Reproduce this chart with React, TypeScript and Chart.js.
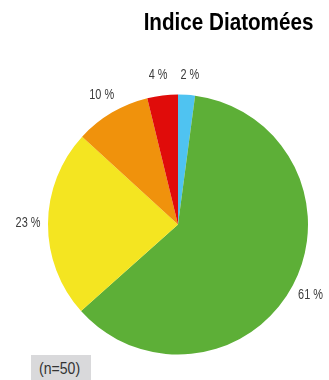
import React, { useEffect, useRef } from "react";
import { Chart, registerables } from "chart.js";

Chart.register(...registerables);

const categories = ["Bleu", "Vert", "Jaune", "Orange", "Rouge"];
const values = [2.1, 61.3, 23.4, 9.4, 3.8];
const valueLabels = ["2 %", "61 %", "23 %", "10 %", "4 %"];
const colors = ["#4fc3f1", "#5daf37", "#f4e521", "#f0920c", "#e00c0a"];

const FONT = '"Liberation Sans", Arial, sans-serif';
const LABEL_SCALE = 0.78;

const outsideLabels = {
  id: "outsideLabels",
  afterDatasetsDraw(chart: any) {
    const ctx = chart.ctx;
    const meta = chart.getDatasetMeta(0);
    ctx.save();
    ctx.font = `14px ${FONT}`;
    ctx.fillStyle = "#3c3c3c";
    ctx.textAlign = "center";
    ctx.textBaseline = "middle";
    const items: any[] = meta.data.map((arc: any, i: number) => {
      const p = arc.getProps(["x", "y", "startAngle", "endAngle", "outerRadius"], true);
      const mid = (p.startAngle + p.endAngle) / 2;
      const r = p.outerRadius + 20;
      const text = valueLabels[i];
      return {
        x: p.x + Math.cos(mid) * r,
        y: p.y + Math.sin(mid) * r,
        w: ctx.measureText(text).width * LABEL_SCALE,
        text,
      };
    });
    // simple collision spreading for labels on similar rows
    for (let k = 0; k < 5; k++) {
      for (let i = 0; i < items.length; i++) {
        for (let j = i + 1; j < items.length; j++) {
          const a = items[i];
          const b = items[j];
          if (Math.abs(a.y - b.y) < 14) {
            const need = (a.w + b.w) / 2 + 13;
            const d = Math.abs(a.x - b.x);
            if (d < need) {
              const push = (need - d) / 2;
              if (a.x >= b.x) {
                a.x += push;
                b.x -= push;
              } else {
                a.x -= push;
                b.x += push;
              }
            }
          }
        }
      }
    }
    items.forEach((it) => {
      ctx.save();
      ctx.translate(it.x, it.y);
      ctx.scale(LABEL_SCALE, 1);
      ctx.fillText(it.text, 0, 0);
      ctx.restore();
    });
    ctx.restore();
  },
};

export default function App() {
  const ref = useRef<HTMLCanvasElement | null>(null);
  useEffect(() => {
    if (!ref.current) return;
    const chart = new Chart(ref.current, {
      type: "pie",
      data: {
        labels: categories,
        datasets: [
          {
            data: values,
            backgroundColor: colors,
            borderWidth: 0,
          },
        ],
      },
      options: {
        animation: false,
        responsive: false,
        layout: { padding: { left: 48, right: 21, top: 94.5, bottom: 25.5 } },
        plugins: {
          legend: { display: false },
          tooltip: { enabled: false },
          title: { display: false },
        },
      },
      plugins: [outsideLabels],
    });
    return () => chart.destroy();
  }, []);

  return (
    <div
      style={{
        position: "fixed",
        left: 0,
        top: 0,
        width: 329,
        height: 380,
        background: "#ffffff",
        overflow: "hidden",
      }}
    >
      <canvas ref={ref} width={329} height={380} style={{ position: "absolute", left: 0, top: 0 }} />
      <div
        style={{
          position: "absolute",
          right: 16,
          top: 10,
          fontFamily: FONT,
          fontWeight: "bold",
          fontSize: 24,
          lineHeight: "24px",
          color: "#000",
          whiteSpace: "nowrap",
          transform: "scaleX(0.86)",
          transformOrigin: "right center",
        }}
      >
        Indice Diatomées
      </div>
      <div
        style={{
          position: "absolute",
          left: 31,
          top: 355,
          width: 60,
          height: 30,
          background: "#d9d9db",
        }}
      >
        <div
          style={{
            position: "absolute",
            left: 8,
            top: 6,
            fontFamily: FONT,
            fontSize: 16,
            lineHeight: "16px",
            color: "#333",
            whiteSpace: "nowrap",
            transform: "scaleX(0.88)",
            transformOrigin: "left center",
          }}
        >
          (n=50)
        </div>
      </div>
    </div>
  );
}
